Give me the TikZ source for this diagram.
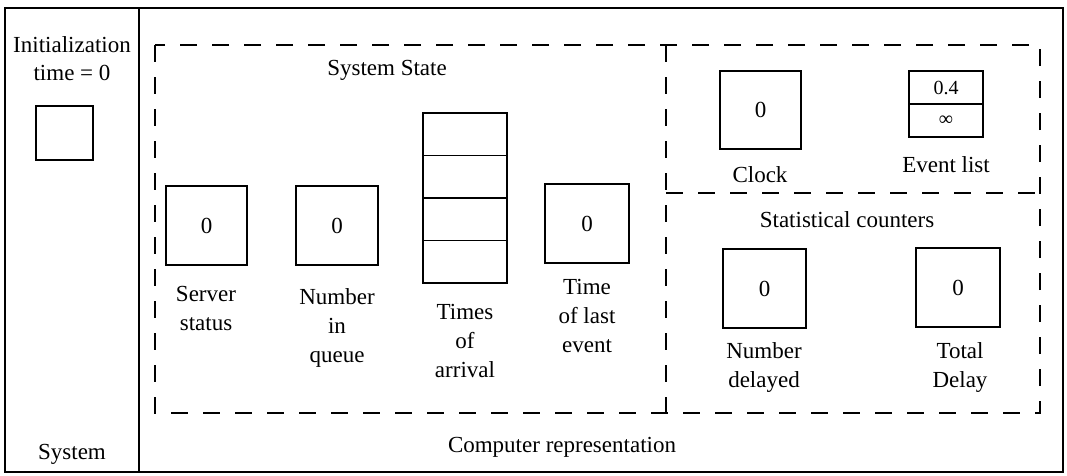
\documentclass[tikz,border=0pt]{standalone}
\usepackage{fontspec}
\setmainfont{Liberation Serif}
\begin{document}
\begin{tikzpicture}[x=1pt,y=-1pt,
  every node/.style={font=\fontsize{23}{29}\selectfont, inner sep=0pt, outer sep=0pt},
  frame/.style={line width=1.8pt},
  dashbox/.style={line width=2pt, dash pattern=on 17pt off 15pt},
  boxline/.style={line width=1.7pt},
  valbox/.style={draw, boxline, minimum width=82pt, minimum height=80pt},
  lbl/.style={align=center, anchor=north},
  small/.style={font=\fontsize{20}{24}\selectfont}]
\useasboundingbox (0,0) rectangle (1067,475);
\fill[white] (0,0) rectangle (1067,475);

% outer frame with the system column on the left
\draw[frame] (5,8) rectangle (1063,472);
\draw[frame] (139,8) -- (139,472);

% system column
\node[anchor=base] (init) at (72,52) {Initialization};
\node[anchor=base] (tzero) at (72,80) {time = 0};
\node[draw, boxline, minimum width=57pt, minimum height=54pt] (initbox) at (64.5,133) {};
\node[anchor=base] (sys) at (72,459) {System};

% dashed regions of the computer representation
\draw[dashbox] (155,45) rectangle (1040,413);
\coordinate (divtop) at (666,45);
\coordinate (divbot) at (666,413);
\coordinate (hleft) at (666,193);
\coordinate (hright) at (1040,193);
\draw[dashbox] (divtop) -- (divbot);
\draw[dashbox] (hleft) -- (hright);

% system state
\node[anchor=base] (sstate) at (387,75) {System State};

\node[valbox, minimum width=81pt, minimum height=79pt] (srv) at (206.5,225.5) {0};
\node[valbox, minimum width=82pt, minimum height=79pt] (nq) at (337,225.5) {0};
\node[draw, boxline, minimum width=84pt, minimum height=170pt] (arr) at (465,198) {};
\foreach \k in {1,2,3}
  \draw[boxline] ([yshift=-\k*42.5pt]arr.north west) -- ([yshift=-\k*42.5pt]arr.north east);
\node[valbox, minimum width=84pt, minimum height=79pt] (tle) at (587,223.5) {0};

\node[lbl] (srvl) at (206,286) {Server\\status};
\node[lbl] (nql) at (337,289) {Number\\in\\queue};
\node[lbl] (arrl) at (465,304) {Times\\of\\arrival};
\node[lbl] (tlel) at (587,279) {Time\\of last\\event};

% clock and event list
\node[valbox, minimum width=81pt, minimum height=78pt] (clk) at (760.5,110) {0};
\node[draw, boxline, minimum width=74pt, minimum height=66pt] (evl) at (946,104) {};
\draw[boxline] (evl.west) -- (evl.east);
\node[small] (ev1) at (946,88) {0.4};
\node[small] (ev2) at (946,121) {∞};
\node[anchor=base] (clkl) at (760,182) {Clock};
\node[anchor=base] (evll) at (946,172) {Event list};

% statistical counters
\node[anchor=base] (stat) at (847,227) {Statistical counters};
\node[valbox, minimum width=83pt, minimum height=79pt] (nd) at (764.5,288.5) {0};
\node[valbox, minimum width=84pt, minimum height=79pt] (td) at (958,287.5) {0};
\node[lbl] (ndl) at (764,343) {Number\\delayed};
\node[lbl] (tdl) at (960,343) {Total\\Delay};

\node[anchor=base] (comp) at (562,452) {Computer representation};
\end{tikzpicture}
\end{document}
